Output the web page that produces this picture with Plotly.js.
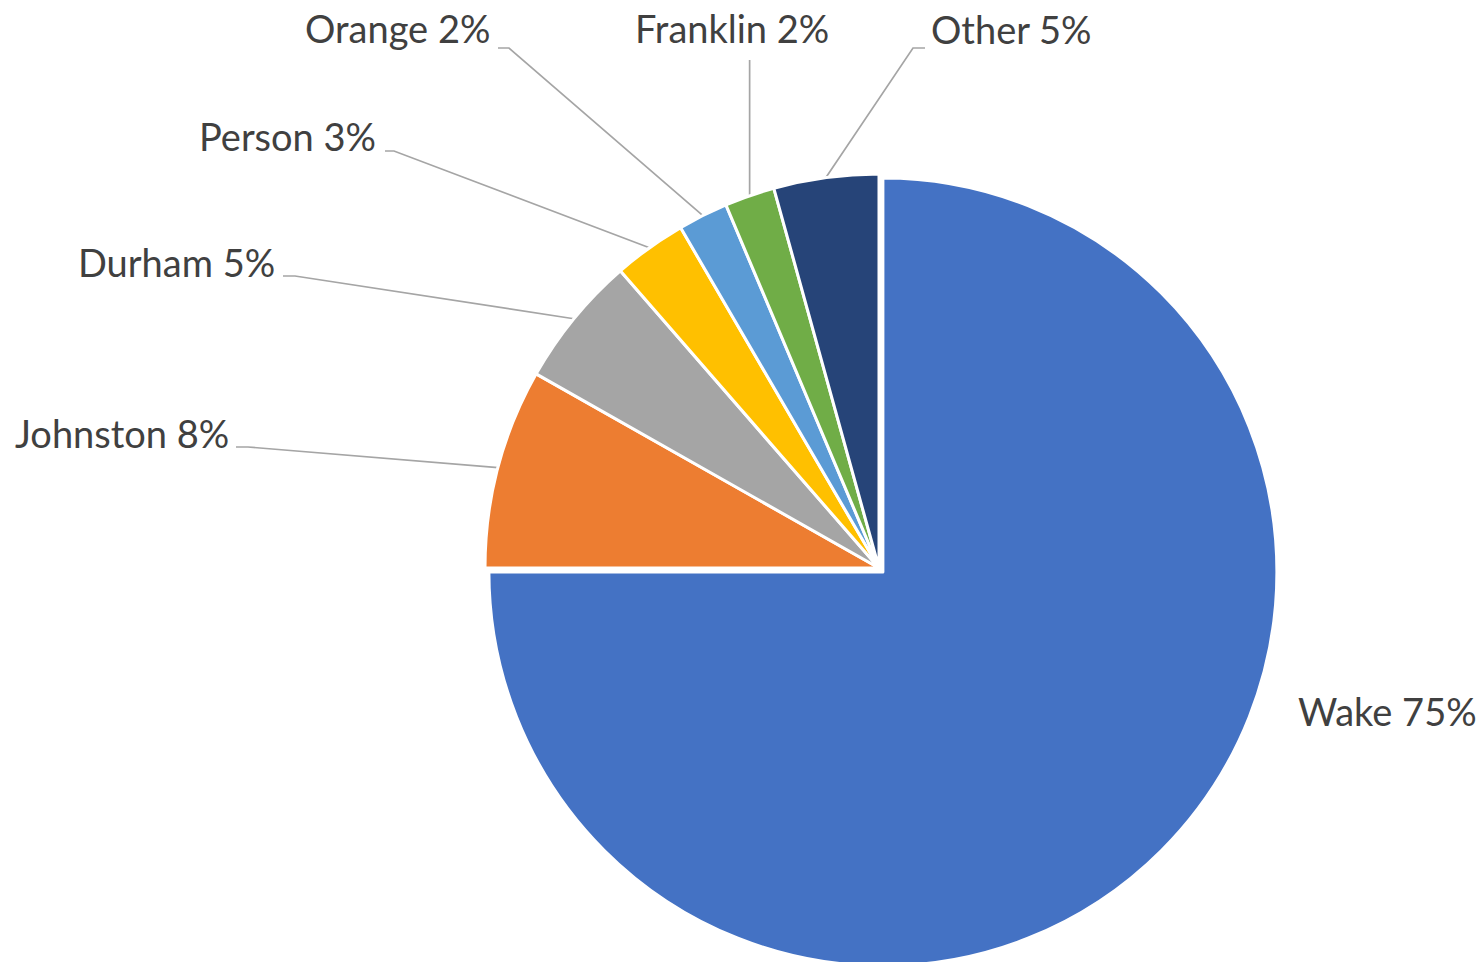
<!DOCTYPE html>
<html><head><meta charset="utf-8">
<script src="https://cdn.plot.ly/plotly-3.0.1.min.js"></script>
<style>html,body{margin:0;padding:0;overflow:hidden;background:#fff}</style>
</head><body><div id="chart"></div>
<script>
// ---- data ----
const counties = ['Wake','Johnston','Durham','Person','Orange','Franklin','Other'];
const shares = [75.0, 8.2, 5.4, 3.0, 2.05, 2.05, 4.3];
const shareLabels = ['75%','8%','5%','3%','2%','2%','5%'];
const sliceColors = ['#4472C4','#ED7D31','#A5A5A5','#FFC000','#5B9BD5','#70AD47','#264478'];
const slicePull = [0.014, 0, 0, 0, 0, 0, 0];

// ---- layout ----
const W = 1483, H = 975;
const labelPlacement = {
  Wake:     {x:1296, y:711, xanchor:'left',   leader:null},
  Johnston: {x:231,  y:433, xanchor:'right',  leader:[[236,447],[248,447]]},
  Durham:   {x:277,  y:262, xanchor:'right',  leader:[[283,276],[295,276]]},
  Person:   {x:378,  y:136, xanchor:'right',  leader:[[385,151],[394,151]]},
  Orange:   {x:492,  y:28,  xanchor:'right',  leader:[[498,48],[509,48]]},
  Franklin: {x:732,  y:28,  xanchor:'center', leader:[[null,60]]},
  Other:    {x:929,  y:29,  xanchor:'left',   leader:[[925,48],[913,48]]}
};
const pieCx = 879, pieCy = 568, pieR = 394;
const box = 2 * pieR * (1 + Math.max.apply(null, slicePull));
const px2x = p => p / W, py2y = p => 1 - p / H;

const trace = {
  type: 'pie',
  labels: counties,
  values: shares,
  sort: false,
  direction: 'clockwise',
  rotation: 0,
  pull: slicePull,
  textinfo: 'none',
  hoverinfo: 'label+percent',
  marker: {colors: sliceColors, line: {color: '#ffffff', width: 3}},
  domain: {
    x: [px2x(pieCx - box / 2), px2x(pieCx + box / 2)],
    y: [py2y(pieCy + box / 2), py2y(pieCy - box / 2)]
  }
};

const labelFont = {family: 'Lato, "Open Sans", sans-serif', size: 38, color: '#404040'};
const annotations = counties.map((c, i) => {
  const p = labelPlacement[c];
  return {
    xref: 'paper', yref: 'paper', x: px2x(p.x), y: py2y(p.y),
    xanchor: p.xanchor, yanchor: 'middle', showarrow: false,
    text: c + ' ' + shareLabels[i], font: labelFont
  };
});

const layout = {
  width: W, height: H,
  margin: {l: 0, r: 0, t: 0, b: 0},
  paper_bgcolor: '#ffffff',
  showlegend: false,
  annotations: annotations
};

Plotly.newPlot('chart', [trace], layout, {displayModeBar: false, staticPlot: true}).then(gd => {
  const cd = gd.calcdata && gd.calcdata[0];
  const shapes = [];
  counties.forEach((c, i) => {
    const p = labelPlacement[c];
    if (!p.leader) return;
    let cx = pieCx, cy = pieCy, mx, my;
    if (cd && cd[i] && cd[i].pxmid) {
      cx = cd[0].cx; cy = cd[0].cy;
      mx = cd[i].pxmid[0]; my = cd[i].pxmid[1];
    } else {
      const tot = shares.reduce((a, b) => a + b, 0);
      const before = shares.slice(0, i).reduce((a, b) => a + b, 0);
      const ang = 2 * Math.PI * (before + shares[i] / 2) / tot;
      mx = pieR * Math.sin(ang); my = -pieR * Math.cos(ang);
    }
    const tip = [cx + mx, cy + my];
    const pts = p.leader.map(q => [q[0] === null ? tip[0] : q[0], q[1]]);
    pts.push(tip);
    const path = pts.map((q, k) => (k ? 'L' : 'M') + px2x(q[0]) + ',' + py2y(q[1])).join(' ');
    shapes.push({type: 'path', xref: 'paper', yref: 'paper', path: path, layer: 'below',
                 line: {color: '#A5A5A5', width: 1.7}});
  });
  return Plotly.relayout(gd, {shapes: shapes});
});
</script>
</body></html>
